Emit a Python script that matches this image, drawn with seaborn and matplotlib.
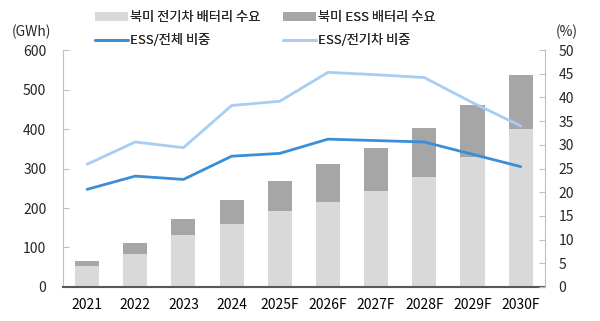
import matplotlib
matplotlib.use("Agg")
import matplotlib.pyplot as plt
import seaborn as sns
import pandas as pd
import numpy as np
from matplotlib.patches import Patch
from matplotlib.lines import Line2D

years = ["2021", "2022", "2023", "2024", "2025F", "2026F", "2027F", "2028F", "2029F", "2030F"]
ev_demand = [52, 84, 132, 159, 192, 214, 242, 279, 330, 401]
ess_demand = [15, 27, 40, 61, 76, 98, 110, 123, 130, 137]
ess_share_total = [20.6, 23.4, 22.7, 27.6, 28.2, 31.2, 30.9, 30.6, 28.0, 25.4]
ess_share_ev = [25.9, 30.6, 29.4, 38.3, 39.2, 45.3, 44.8, 44.2, 38.9, 34.0]

label_ev = "북미 전기차 배터리 수요"
label_ess = "북미 ESS 배터리 수요"
label_l1 = "ESS/전체 비중"
label_l2 = "ESS/전기차 비중"

sns.set_style("white")
plt.rcParams["font.family"] = ["Noto Sans CJK KR", "DejaVu Sans"]

c_ev = "#d9d9d9"
c_ess = "#a6a6a6"
c_l1 = "#3a8dd6"
c_l2 = "#a8cdf2"

df = pd.DataFrame({"year": years, "ev": ev_demand, "ess": ess_demand,
                   "total": np.array(ev_demand) + np.array(ess_demand),
                   "s1": ess_share_total, "s2": ess_share_ev})

fig = plt.figure(figsize=(6.0, 3.21), dpi=100)
ax = fig.add_axes([0.105, 0.106, 0.803, 0.738])

sns.barplot(data=df, x="year", y="total", color=c_ess, width=0.5, ax=ax,
            saturation=1, edgecolor="none")
sns.barplot(data=df, x="year", y="ev", color=c_ev, width=0.5, ax=ax,
            saturation=1, edgecolor="none")

ax2 = ax.twinx()
xs = np.arange(len(years))
sns.lineplot(x=xs, y=df["s2"], ax=ax2, color=c_l2, linewidth=2.0)
sns.lineplot(x=xs, y=df["s1"], ax=ax2, color=c_l1, linewidth=2.0)

ax.set_xlim(-0.5, len(years) - 0.5)
ax.set_ylim(0, 600)
ax.set_yticks(range(0, 601, 100))
ax2.set_ylim(0, 50)
ax2.set_yticks(range(0, 51, 5))
ax.set_xlabel("")
ax.set_ylabel("")
ax2.set_ylabel("")

for a in (ax, ax2):
    for s in a.spines.values():
        s.set_visible(False)
ax.spines["left"].set_visible(True)
ax.spines["left"].set_color("#bfbfbf")
ax.spines["left"].set_linewidth(0.8)
ax2.spines["right"].set_visible(True)
ax2.spines["right"].set_color("#bfbfbf")
ax2.spines["right"].set_linewidth(0.8)
ax.spines["bottom"].set_visible(True)
ax.spines["bottom"].set_color("#595959")
ax.spines["bottom"].set_linewidth(1.5)

ax.set_xticks(xs)
ax.set_xticklabels(years)
ax.tick_params(axis="x", length=0, labelsize=10, pad=8, colors="#000000")
ax.set_xticks(np.arange(-0.5, len(years), 1), minor=True)
ax.tick_params(axis="x", which="minor", direction="in", length=4, width=1, color="#595959")
ax.tick_params(axis="y", direction="in", length=4, width=0.8, color="#bfbfbf",
               labelsize=10, pad=12)
ax2.tick_params(axis="y", direction="in", length=4, width=0.8, color="#bfbfbf",
                labelsize=10, pad=10)
for lbl in ax2.get_yticklabels():
    lbl.set_horizontalalignment("left")

fig.text(0.053, 0.9, "(GWh)", fontsize=10, ha="center", va="center")
fig.text(0.945, 0.9, "(%)", fontsize=10, ha="center", va="center")

entries = [
    (Patch(facecolor=c_ev, edgecolor="none"), label_ev, 95, 18),
    (Patch(facecolor=c_ess, edgecolor="none"), label_ess, 283, 18),
    (Line2D([0], [0], color=c_l1, lw=2.0), label_l1, 95, 41),
    (Line2D([0], [0], color=c_l2, lw=2.0), label_l2, 283, 41),
]
for h, lab, px, py in entries:
    lg = fig.legend([h], [lab], loc="center left",
                    bbox_to_anchor=(px / 600, 1 - py / 321), frameon=False,
                    fontsize=9.5, handlelength=2.5, handleheight=0.65,
                    handletextpad=0.15, borderpad=0, borderaxespad=0)
    fig.add_artist(lg)

fig.savefig("out.png", dpi=100)
